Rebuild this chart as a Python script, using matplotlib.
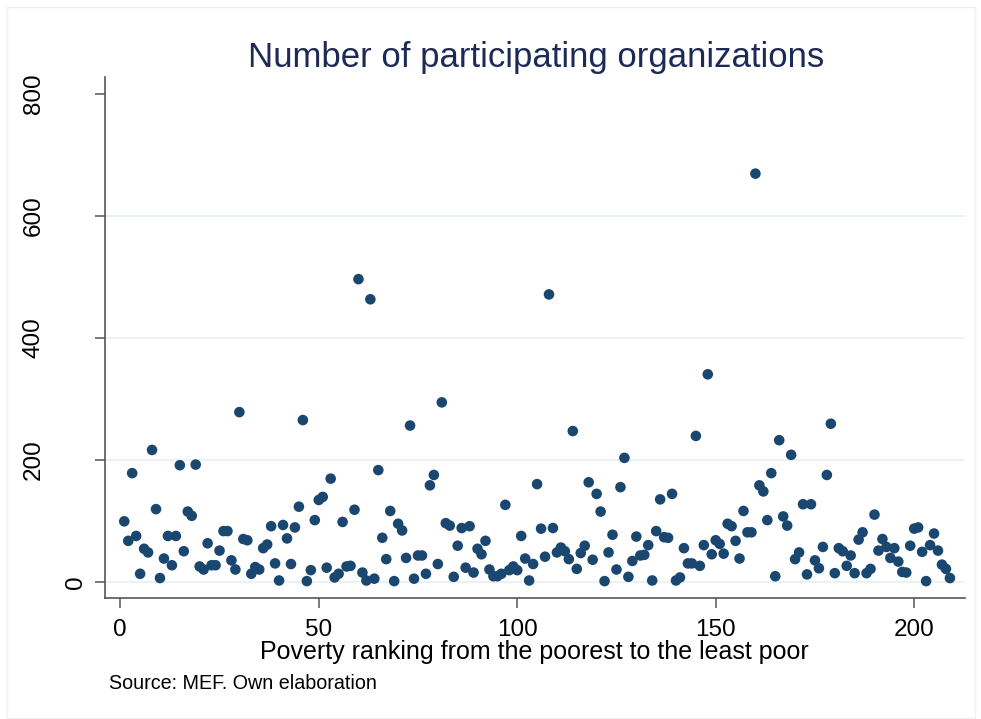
import matplotlib
matplotlib.use("Agg")
import matplotlib.pyplot as plt
from matplotlib.patches import Rectangle
from matplotlib.transforms import blended_transform_factory


ranking = list(range(1, 210))
organizations = [
    99, 67, 178, 75, 13, 54, 48, 216, 119, 6,
    38, 75, 27, 75, 191, 50, 115, 108, 192, 25,
    20, 63, 27, 27, 51, 83, 83, 35, 20, 278,
    70, 68, 13, 24, 20, 55, 61, 91, 30, 2,
    93, 71, 29, 89, 123, 265, 1, 19, 101, 134,
    139, 23, 169, 7, 13, 98, 25, 26, 118, 496,
    15, 2, 463, 5, 183, 72, 37, 116, 1, 95,
    84, 39, 256, 5, 43, 43, 13, 158, 175, 29,
    294, 96, 92, 8, 59, 88, 23, 91, 15, 54,
    45, 67, 20, 9, 9, 13, 126, 19, 25, 19,
    75, 38, 2, 29, 160, 87, 41, 471, 88, 48,
    56, 50, 37, 247, 21, 47, 59, 163, 36, 144,
    115, 1, 48, 77, 20, 155, 203, 8, 34, 74,
    43, 44, 60, 2, 83, 135, 73, 72, 144, 2,
    7, 55, 30, 30, 239, 26, 60, 340, 45, 68,
    62, 46, 95, 91, 67, 38, 116, 81, 81, 669,
    158, 148, 101, 178, 9, 232, 107, 92, 208, 37,
    48, 127, 12, 127, 35, 22, 57, 175, 259, 14,
    55, 50, 26, 43, 14, 69, 81, 14, 21, 110,
    51, 70, 57, 39, 55, 33, 16, 15, 59, 87,
    89, 49, 1, 60, 79, 51, 28, 21, 6,
]
x_ticks = [0, 50, 100, 150, 200]
y_ticks = [0, 200, 400, 600, 800]
y_grid = [0, 200, 400, 600]

title = "Number of participating organizations"
x_label = "Poverty ranking from the poorest to the least poor"
note = "Source: MEF. Own elaboration"

W, H = 981, 719
marker_color = "#1a476f"
axis_color = "#555555"
grid_color = "#eaf2f3"
title_color = "#1c2a55"

plt.rcParams["font.family"] = ["Liberation Sans", "DejaVu Sans"]

fig = plt.figure(figsize=(W / 100, H / 100), dpi=100)
fig.patch.set_facecolor("white")

# faint outer frame of the graph region
fig.patches.append(Rectangle((7 / W, 1 - 718 / H), 968 / W, 711 / H,
                             transform=fig.transFigure, fill=False,
                             edgecolor="#f0f0f0", linewidth=1))

ax = fig.add_axes([105 / W, 1 - 598 / H, 860 / W, 521 / H])
ax.set_xlim(-3.85, 212.8)
ax.set_ylim(-26.7, 827.4)

for y in y_grid:
    ax.axhline(y, color=grid_color, linewidth=1.6, zorder=0)

ax.scatter(ranking, organizations, s=58, color=marker_color,
           edgecolors="none", zorder=3)

for side in ["top", "right"]:
    ax.spines[side].set_visible(False)
for side in ["left", "bottom"]:
    ax.spines[side].set_color(axis_color)
    ax.spines[side].set_linewidth(1.2)

ax.set_xticks(x_ticks)
ax.set_xticklabels([str(t) for t in x_ticks], fontsize=17.5)
ax.tick_params(axis="x", length=7, width=1.1, color=axis_color, pad=8)

ax.set_yticks(y_ticks)
ax.set_yticklabels([])
ax.tick_params(axis="y", length=7, width=1.1, color=axis_color)

# y labels are rotated and placed like Stata does it
trans = blended_transform_factory(fig.transFigure, ax.transData)
for t in y_ticks:
    x_pix = 76 if t == 0 else 34
    ax.text(x_pix / W, t, str(t), transform=trans, rotation=90,
            ha="center", va="center", fontsize=17.5, clip_on=False)

fig.text(536 / W, 1 - 67 / H, title, ha="center", va="baseline",
         fontsize=25, color=title_color)
fig.text(534 / W, 1 - 659 / H, x_label, ha="center", va="baseline",
         fontsize=18)
fig.text(109 / W, 1 - 689 / H, note, ha="left", va="baseline",
         fontsize=14.2)

fig.savefig("out.png", dpi=100)
